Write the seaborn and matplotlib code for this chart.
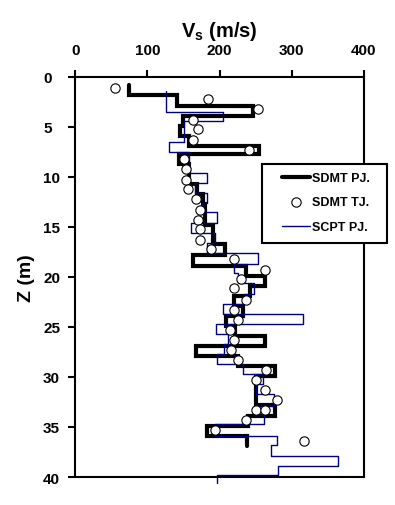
import numpy as np
import pandas as pd
import matplotlib
matplotlib.use("Agg")
import matplotlib.pyplot as plt
from matplotlib.patches import Rectangle
import seaborn as sns

# SDMT PJ: layer boundaries (m) and Vs of each layer (m/s)
sdmt_pj_depth = [0.85, 1.85, 2.9, 3.9, 4.9, 5.9, 6.95, 7.75, 8.75, 10.75,
                 11.75, 12.75, 14.85, 16.75, 17.85, 18.95, 19.95, 20.95, 21.95, 22.9,
                 23.9, 24.9, 25.95, 26.9, 27.9, 28.9, 29.9, 32.85, 33.9, 34.9,
                 35.95, 36.9]
sdmt_pj_vs = [74, 141, 246, 149, 145, 158, 254, 144, 157, 168,
              177, 180, 191, 207, 163, 236, 263, 242, 220, 232,
              209, 221, 263, 167, 225, 277, 251, 277, 239, 182,
              238]

# SCPT PJ: layer boundaries (m) and Vs of each layer (m/s)
scpt_pj_depth = [1.42, 3.52, 4.48, 6.58, 7.58, 9.68, 10.68, 11.65, 12.65, 13.5,
                 14.65, 15.65, 16.65, 17.65, 18.68, 19.65, 20.58, 21.68, 22.75, 23.68,
                 24.68, 25.75, 26.68, 27.75, 28.75, 29.68, 30.75, 31.75, 32.92, 33.85,
                 34.75, 35.92, 36.85, 37.92, 38.92, 39.82, 40.6]
scpt_pj_vs = [126, 205, 150, 130, 157, 183, 166, 183, 176, 196,
              161, 193, 183, 253, 220, 226, 247, 234, 205, 316,
              195, 211, 206, 197, 232, 260, 250, 275, 249, 261,
              194, 280, 271, 364, 281, 197]

# SDMT TJ: point measurements
sdmt_tj_z = [1.15, 2.25, 3.25, 4.3, 5.25, 6.3, 7.35, 8.25, 9.25, 10.35,
             11.25, 12.25, 13.35, 14.3, 15.25, 16.3, 17.25, 18.25, 19.3, 20.25,
             21.15, 22.35, 23.35, 24.35, 25.35, 26.35, 27.35, 28.35, 29.35, 30.35,
             31.35, 32.35, 33.35, 33.35, 34.35, 35.35, 36.4]
sdmt_tj_vs = [55, 184, 253, 163, 170, 163, 241, 150, 154, 154,
              156, 167, 173, 170, 173, 173, 188, 220, 263, 230,
              220, 236, 220, 226, 215, 220, 216, 226, 264, 250,
              263, 280, 251, 263, 237, 194, 317]

x_ticks = [0, 100, 200, 300, 400]
z_ticks = [0, 5, 10, 15, 20, 25, 30, 35, 40]


def step_profile(depth, vs):
    x, z = [], []
    for i, v in enumerate(vs):
        x += [v, v]
        z += [depth[i], depth[i + 1]]
    return pd.DataFrame({"Vs": x, "Z": z})


pj = step_profile(sdmt_pj_depth, sdmt_pj_vs)
scpt = step_profile(scpt_pj_depth, scpt_pj_vs)
tj = pd.DataFrame({"Vs": sdmt_tj_vs, "Z": sdmt_tj_z})

sns.set_style("ticks")
plt.rcParams["font.family"] = ["Liberation Sans", "DejaVu Sans"]
plt.rcParams["font.weight"] = "bold"
plt.rcParams["text.color"] = "black"
plt.rcParams["axes.labelcolor"] = "black"
plt.rcParams["xtick.color"] = "black"
plt.rcParams["ytick.color"] = "black"
plt.rcParams["mathtext.fontset"] = "custom"
plt.rcParams["mathtext.rm"] = "Liberation Sans:bold"
plt.rcParams["mathtext.bf"] = "Liberation Sans:bold"
plt.rcParams["mathtext.it"] = "Liberation Sans:italic:bold"

fig, ax = plt.subplots(figsize=(3.95, 5.06), dpi=100)
fig.subplots_adjust(left=0.1906, right=0.9215, top=0.8468, bottom=0.0553)

sns.lineplot(data=pj, x="Vs", y="Z", sort=False, estimator=None, orient="y",
             color="black", lw=3, solid_joinstyle="miter", label="SDMT PJ.",
             ax=ax, zorder=2)
sns.lineplot(data=scpt, x="Vs", y="Z", sort=False, estimator=None, orient="y",
             color="#000080", lw=1, label="SCPT PJ.", clip_on=False,
             ax=ax, zorder=3)
sns.scatterplot(data=tj, x="Vs", y="Z", marker="o", s=45, color="white",
                edgecolor="black", linewidth=0.8, label="SDMT TJ.",
                ax=ax, zorder=4)

ax.set_xlim(0, 400)
ax.set_ylim(40, 0)
ax.set_xticks(x_ticks)
ax.set_yticks(z_ticks)
ax.xaxis.tick_top()
ax.xaxis.set_label_position("top")
ax.tick_params(axis="both", direction="out", length=5, width=1.5,
               labelsize=11, colors="black")
ax.tick_params(axis="x", top=True, bottom=False, pad=9.2)
# y tick labels are left-aligned in the original
ax.tick_params(axis="y", left=True, right=False, pad=18.2)
for lab in ax.get_yticklabels():
    lab.set_horizontalalignment("left")
for sp in ax.spines.values():
    sp.set_visible(True)
    sp.set_linewidth(1.5)
    sp.set_color("black")

ax.set_xlabel(r"V$_\mathrm{s}$ (m/s)", fontsize=14.5, fontweight="bold", labelpad=5)
ax.set_ylabel("Z (m)", fontsize=14, fontweight="bold", labelpad=6)

handles, labels = ax.get_legend_handles_labels()
ax.get_legend().remove()
order = [labels.index(l) for l in ["SDMT PJ.", "SDMT TJ.", "SCPT PJ."]]

# legend box drawn by hand so it can sit over the right spine
fig.add_artist(Rectangle((261.7 / 395, 1 - 244.3 / 506), 125 / 395, 79.3 / 506,
                         transform=fig.transFigure, facecolor="white",
                         edgecolor="black", lw=1.5, zorder=4))
fig.legend([handles[i] for i in order], [labels[i] for i in order],
           loc="upper left", bbox_to_anchor=(281.7 / 395, 1 - 173 / 506),
           frameon=False, borderpad=0, borderaxespad=0, handlelength=2.26,
           handletextpad=0.15, labelspacing=1.0,
           prop={"weight": "bold", "size": 9})

fig.savefig("out.png", dpi=100)
